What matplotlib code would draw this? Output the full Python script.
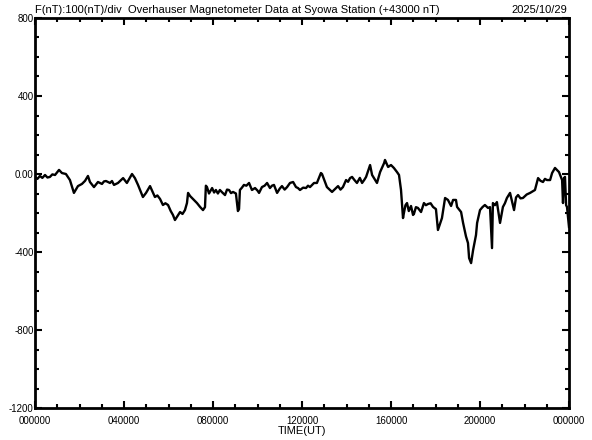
import matplotlib
matplotlib.use("Agg")
import matplotlib.pyplot as plt
from matplotlib.ticker import MultipleLocator

plt.rcParams['font.family'] = ['Liberation Sans', 'DejaVu Sans']

# 관측 시간(UT, 시) 과 F 값(nT, +43000 nT 기준)
hours = [0.00, 0.11, 0.22, 0.33, 0.45, 0.56, 0.67, 0.78, 0.90, 1.08, 1.21, 1.39, 1.57, 1.75,
         1.93, 2.11, 2.25, 2.38, 2.47, 2.65, 2.83, 3.01, 3.10, 3.19, 3.37, 3.46, 3.55, 3.73,
         3.87, 3.96, 4.13, 4.36, 4.49, 4.63, 4.85, 4.99, 5.17, 5.39, 5.50, 5.62, 5.75, 5.86,
         5.98, 6.10, 6.20, 6.29, 6.52, 6.63, 6.74, 6.83, 6.88, 6.97, 7.10, 7.28, 7.42, 7.55,
         7.64, 7.68, 7.73, 7.82, 7.96, 8.05, 8.13, 8.22, 8.31, 8.42, 8.54, 8.63, 8.72, 8.81,
         8.90, 9.03, 9.12, 9.17, 9.21, 9.30, 9.39, 9.50, 9.62, 9.75, 9.89, 10.00, 10.07, 10.20,
         10.32, 10.43, 10.56, 10.65, 10.74, 10.88, 11.00, 11.10, 11.22, 11.33, 11.46, 11.60,
         11.73, 11.82, 11.91, 12.05, 12.18, 12.27, 12.36, 12.54, 12.67, 12.85, 12.90, 13.12,
         13.35, 13.50, 13.62, 13.73, 13.84, 13.98, 14.07, 14.16, 14.25, 14.35, 14.47, 14.60,
         14.70, 14.80, 14.88, 15.06, 15.15, 15.37, 15.51, 15.69, 15.73, 15.87, 16.00, 16.13,
         16.27, 16.36, 16.45, 16.54, 16.58, 16.65, 16.72, 16.80, 16.90, 16.99, 17.03, 17.12,
         17.21, 17.35, 17.48, 17.57, 17.66, 17.78, 17.89, 18.02, 18.11, 18.29, 18.43, 18.56,
         18.70, 18.79, 18.92, 18.97, 19.15, 19.24, 19.37, 19.46, 19.51, 19.60, 19.69, 19.82,
         19.87, 20.00, 20.11, 20.22, 20.36, 20.45, 20.54, 20.58, 20.67, 20.76, 20.90, 21.03,
         21.12, 21.21, 21.35, 21.53, 21.62, 21.71, 21.82, 21.93, 22.10, 22.25, 22.47, 22.61,
         22.72, 22.83, 22.92, 23.01, 23.15, 23.24, 23.37, 23.55, 23.69, 23.73, 23.78, 23.82,
         23.87, 23.91, 24.00]
f_nt = [-15, -25, -10, -20, -5, -18, -15, -2, -5, 21, 5, 0, -31, -97,
        -62, -51, -35, -10, -41, -67, -41, -51, -38, -36, -46, -36, -56, -46,
        -31, -21, -46, 0, -21, -56, -118, -97, -62, -118, -110, -128, -159, -150,
        -159, -190, -210, -236, -195, -205, -185, -149, -97, -113, -128, -149, -169, -185,
        -170, -60, -67, -100, -72, -95, -82, -100, -82, -95, -108, -80, -82, -98,
        -92, -100, -190, -180, -82, -70, -56, -60, -46, -82, -72, -85, -97, -67,
        -60, -46, -72, -60, -56, -97, -75, -62, -80, -67, -46, -41,
        -67, -72, -82, -70, -72, -60, -67, -46, -46, 5, 0, -67,
        -92, -75, -62, -80, -67, -31, -40, -21, -15, -30, -46, -20,
        -46, -30, -15, 46, -5, -46, 10, 56, 72, 36, 46, 31,
        10, -5, -82, -226, -200, -160, -149, -190, -164, -210, -205, -170,
        -174, -195, -149, -160, -154, -150, -169, -180, -287, -226, -123, -133,
        -164, -133, -133, -169, -195, -251, -320, -354, -431, -457, -390, -313,
        -251, -185, -170, -159, -174, -170, -380, -149, -160, -144, -251, -169,
        -150, -123, -97, -185, -120, -108, -125, -123, -105, -97, -82, -21,
        -35, -41, -25, -31, -31, 5, 31, 10, -31, -149, -20, -15,
        -160, -169, -272]

y_ticks = [800, 400, 0, -400, -800, -1200]
y_labels = ['800', '400', '0.00', '-400', '-800', '-1200']
x_ticks = [0, 4, 8, 12, 16, 20, 24]
x_labels = ['000000', '040000', '080000', '120000', '160000', '200000', '000000']

fig = plt.figure(figsize=(5.92, 4.40), dpi=100)
ax = fig.add_axes([35/592, 32/440, 534/592, 390/440])

ax.plot(hours, f_nt, color='black', linewidth=1.7)

ax.set_xlim(0, 24)
ax.set_ylim(-1200, 800)
ax.set_xticks(x_ticks)
ax.set_xticklabels(x_labels)
ax.set_yticks(y_ticks)
ax.set_yticklabels(y_labels)
ax.xaxis.set_minor_locator(MultipleLocator(1))
ax.yaxis.set_minor_locator(MultipleLocator(100))

ax.tick_params(which='both', direction='in', top=True, right=True, width=1.5,
               labelsize=7, colors='black')
ax.tick_params(which='major', length=5)
ax.tick_params(which='minor', length=3)
ax.tick_params(axis='y', pad=1)
ax.tick_params(axis='x', pad=6)
for s in ax.spines.values():
    s.set_linewidth(2)

ax.set_xlabel('TIME(UT)', fontsize=8, labelpad=0)

fig.text(35/592, 1 - 13/440,
         'F(nT):100(nT)/div  Overhauser Magnetometer Data at Syowa Station (+43000 nT)',
         fontsize=8, ha='left', va='baseline')
fig.text(567/592, 1 - 13/440, '2025/10/29', fontsize=8, ha='right', va='baseline')

fig.savefig('out.png', dpi=100)
